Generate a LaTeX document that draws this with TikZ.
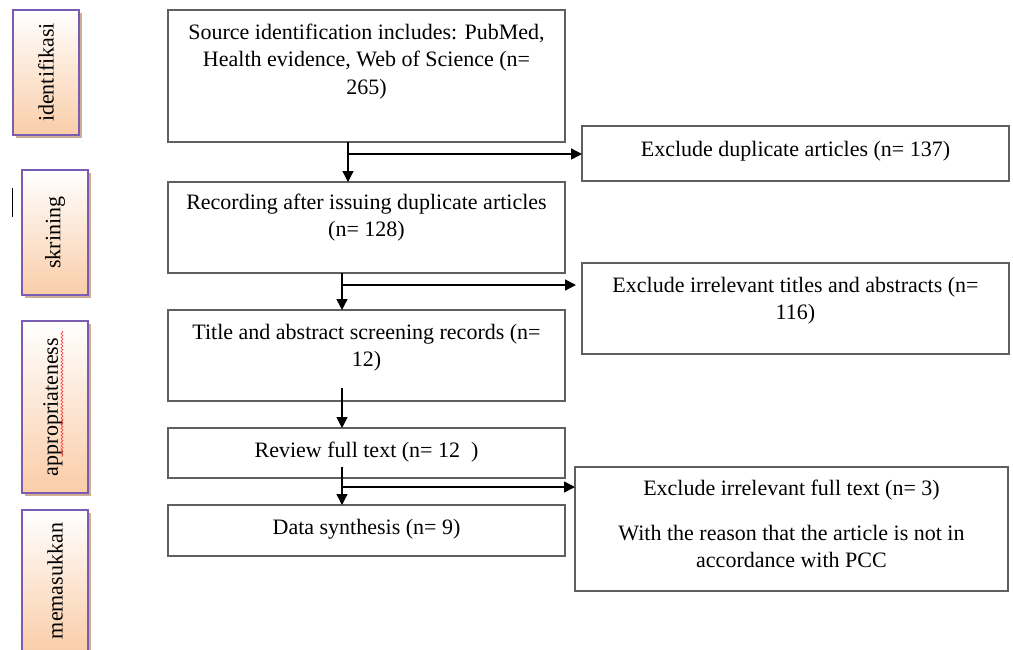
\documentclass[tikz,border=0pt]{standalone}
\usepackage{fontspec}
\setmainfont{Liberation Serif}
\usetikzlibrary{arrows.meta,decorations.pathmorphing,shadows}
\definecolor{boxline}{RGB}{95,95,95}
\definecolor{lblline}{RGB}{122,92,178}
\definecolor{peach}{RGB}{250,205,168}
\definecolor{shadowc}{RGB}{206,172,150}
\begin{document}
\begin{tikzpicture}[x=1pt,y=-1pt,
  every node/.style={inner sep=0pt,outer sep=0pt},
  txt/.style={font=\fontsize{22}{27.5}\selectfont,align=center},
  box/.style={draw=boxline,line width=1.3pt,minimum width=397pt},
  rbox/.style={draw=boxline,line width=1.3pt},
  lbl/.style={draw=lblline,line width=2.2pt,top color=white,bottom color=peach,
    minimum width=66pt,drop shadow={shadow xshift=3pt,shadow yshift=-3pt,fill=shadowc,opacity=1}},
  lbltxt/.style={font=\fontsize{22}{26}\selectfont,rotate=90},
  arr/.style={line width=1.4pt,-{Triangle[length=11pt,width=11pt]}}]
\clip (0,0) rectangle (1013,649);
\fill[white] (0,0) rectangle (1013,649);

% side labels
\node[lbl,minimum height=125pt] (L1) at (46,72.5) {};
\node[lbltxt] (L1t) at (L1.center) {identifikasi};
\node[lbl,minimum height=125pt] (L2) at (55,232.5) {};
\node[lbltxt] (L2t) at (L2.center) {skrining};
\node[lbl,minimum height=172pt] (L3) at (55,407) {};
\node[lbltxt] (L3t) at ([xshift=-2pt]L3.center) {appropriateness};
\draw[red!80,line width=0.6pt,decorate,decoration={snake,segment length=3.5pt,amplitude=1pt}] (62,331) -- (62,457);
\node[lbl,minimum height=142pt] (L4) at (55,581) {};
\node[lbltxt] (L4t) at (L4.center) {memasukkan};
\draw[line width=0.8pt] (12,188) -- (12,217);

% main boxes
\node[box,minimum height=132pt] (A) at (366.5,76) {};
\node[rbox,minimum width=427pt,minimum height=55pt] (B) at (795.5,153.5) {};
\node[box,minimum height=91pt] (C) at (366.5,227.5) {};
\node[rbox,minimum width=427pt,minimum height=91pt] (D) at (795.5,308.5) {};
\node[box,minimum height=91pt] (E) at (366.5,355.5) {};
\node[box,minimum height=50pt] (F) at (366.5,453) {};
\node[box,minimum height=51pt] (G) at (366.5,530.5) {};
\node[rbox,minimum width=433pt,minimum height=124pt] (H) at (791.5,529) {};

% texts
\node[txt,anchor=north] (tA) at (366.5,24) {Source identification includes: PubMed,\\Health evidence, Web of Science (n=\\265)};
\node[txt,anchor=base] (tB) at (795.5,156) {Exclude duplicate articles (n= 137)};
\node[txt,anchor=north] (tC) at (366.5,194) {Recording after issuing duplicate articles\\(n= 128)};
\node[txt,anchor=north] (tD) at (795.5,277) {Exclude irrelevant titles and abstracts (n=\\116)};
\node[txt,anchor=north] (tE) at (366.5,324) {Title and abstract screening records (n=\\12)};
\node[txt,anchor=base] (tF) at (366.5,457) {Review full text (n= 12\ \ )};
\node[txt,anchor=base] (tG) at (366.5,534) {Data synthesis (n= 9)};
\node[txt,anchor=base] (tH1) at (791.5,495) {Exclude irrelevant full text (n= 3)};
\node[txt,anchor=north] (tH2) at (791.5,525) {With the reason that the article is not in\\accordance with PCC};

% connectors
\coordinate (k1) at (348,154);
\draw[arr] (k1 |- A.south) -- (k1 |- C.north);
\draw[arr] (k1) -- (k1 -| B.west);
\coordinate (k2) at (342,285);
\coordinate (k2e) at (576,285);
\draw[arr] (k2 |- C.south) -- (k2 |- E.north);
\draw[arr] (k2) -- (k2e);
\coordinate (k3) at (342,388);
\draw[arr] (k3) -- (k3 |- F.north);
\coordinate (k4s) at (342,467);
\coordinate (k4) at (342,487);
\draw[arr] (k4s) -- (k4s |- G.north);
\draw[arr] (k4) -- (k4 -| H.west);
\end{tikzpicture}
\end{document}
